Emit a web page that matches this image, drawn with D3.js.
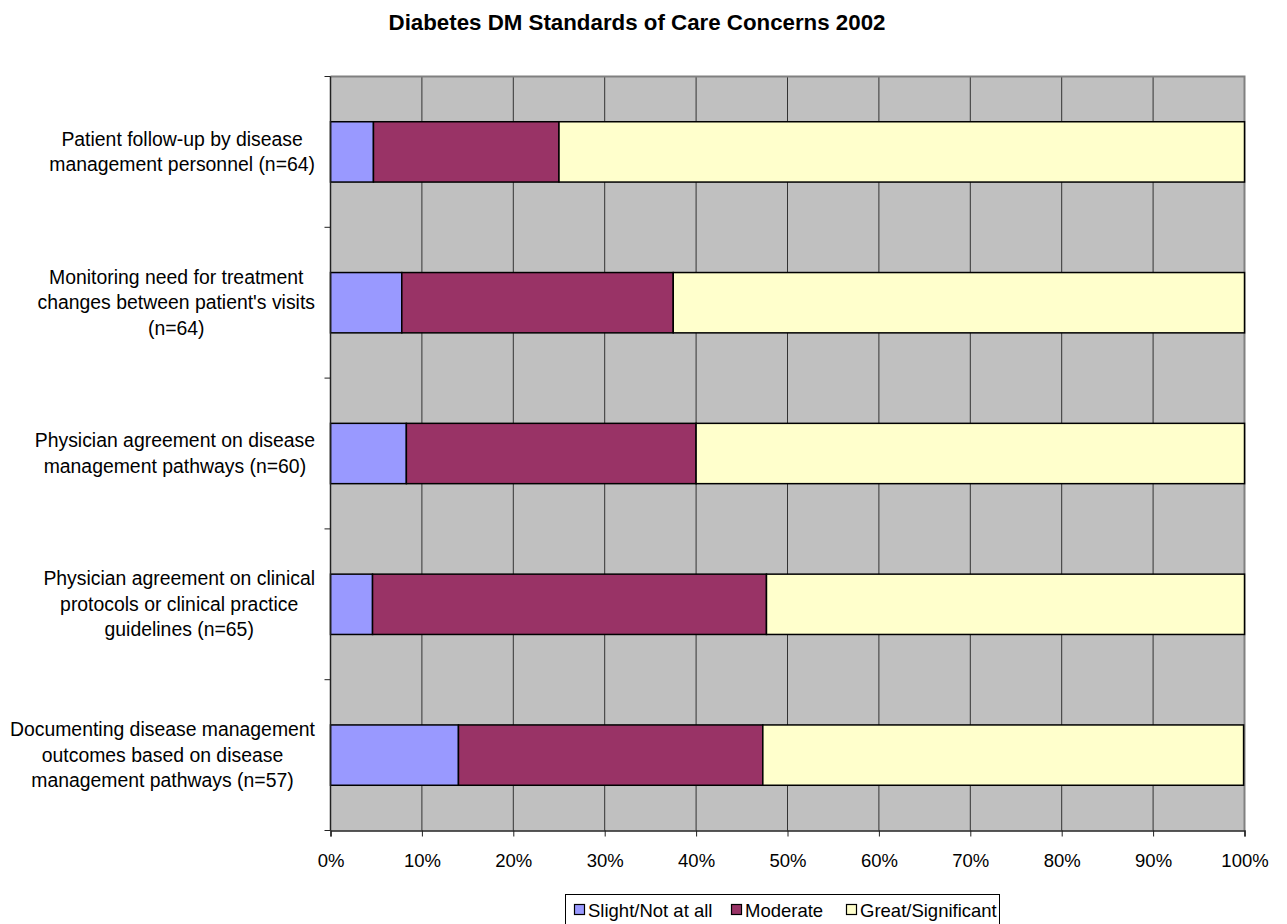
<!DOCTYPE html>
<html>
<head>
<meta charset="utf-8">
<script src="https://cdn.jsdelivr.net/npm/d3@7"></script>
<style>
  html, body { margin: 0; padding: 0; background: #fff; }
  svg { display: block; font-family: "Liberation Sans", Arial, sans-serif; }
</style>
</head>
<body>
<svg id="chart" width="1287" height="924"></svg>
<script>
// Survey items (top to bottom), each label split into its display lines
const categories = [
  ["Patient follow-up by disease", "management personnel (n=64)"],
  ["Monitoring need for treatment", "changes between patient's visits", "(n=64)"],
  ["Physician agreement on disease", "management pathways (n=60)"],
  ["Physician agreement on clinical", "protocols or clinical practice", "guidelines (n=65)"],
  ["Documenting disease management", "outcomes based on disease", "management pathways (n=57)"]
];

// Percent of respondents per level of concern
const slight    = [4.7, 7.8, 8.3, 4.6, 14.0];
const moderate  = [20.3, 29.7, 31.7, 43.1, 33.3];
const great     = [75.0, 62.5, 60.0, 52.3, 52.6];

const seriesNames  = ["Slight/Not at all", "Moderate", "Great/Significant"];
const seriesColors = ["#9999FF", "#993366", "#FFFFCC"];
const xTicks = [0, 10, 20, 30, 40, 50, 60, 70, 80, 90, 100];

const svg = d3.select("#chart");
const plot = { left: 330.5, right: 1244.5, top: 76.5, bottom: 830.5 };

const x = d3.scaleLinear().domain([0, 100]).range([plot.left, plot.right]);
const y = d3.scaleBand()
  .domain(d3.range(categories.length))
  .range([plot.top, plot.bottom])
  .paddingInner(0.6).paddingOuter(0.3);

// Title
svg.append("text")
  .attr("x", 637).attr("y", 30)
  .attr("text-anchor", "middle")
  .attr("font-weight", "bold")
  .attr("font-size", 22.3)
  .text("Diabetes DM Standards of Care Concerns 2002");

// Plot background
svg.append("rect")
  .attr("x", plot.left).attr("y", plot.top)
  .attr("width", plot.right - plot.left).attr("height", plot.bottom - plot.top)
  .attr("fill", "#C0C0C0");

// Vertical gridlines
svg.append("g").selectAll("line")
  .data(xTicks.slice(1, -1))
  .join("line")
  .attr("x1", d => x(d)).attr("x2", d => x(d))
  .attr("y1", plot.top).attr("y2", plot.bottom)
  .attr("stroke", "#333").attr("stroke-width", 1);

// Top and right frame
svg.append("path")
  .attr("d", `M${plot.left},${plot.top}H${plot.right}V${plot.bottom}`)
  .attr("fill", "none").attr("stroke", "#808080").attr("stroke-width", 2);

// Stacked bars
const rows = categories.map((c, i) => [slight[i], moderate[i], great[i]]);
const stack = d3.stack().keys([0, 1, 2]).value((r, k) => r[k]);
const layers = stack(rows);

svg.append("g").selectAll("g")
  .data(layers)
  .join("g")
  .attr("fill", (d, k) => seriesColors[k])
  .selectAll("rect")
  .data(d => d.map((v, i) => ({ v, i })))
  .join("rect")
  .attr("x", d => x(d.v[0]))
  .attr("y", d => y(d.i))
  .attr("width", d => x(d.v[1]) - x(d.v[0]))
  .attr("height", y.bandwidth())
  .attr("stroke", "#000").attr("stroke-width", 1.5);

// X axis
const xAxis = svg.append("g")
  .attr("transform", `translate(0,${plot.bottom})`)
  .call(d3.axisBottom(x).tickValues(xTicks).tickFormat(d => d + "%").tickSize(6).tickPadding(17.5));
xAxis.select(".domain").attr("stroke", "#222").attr("stroke-width", 1.5);
xAxis.selectAll(".tick line").attr("stroke", "#222");
xAxis.selectAll(".tick text")
  .attr("font-size", 18.5).attr("fill", "#000")
  .attr("font-family", "'Liberation Sans', Arial, sans-serif");

// Y axis with ticks at category boundaries
const boundaries = d3.range(categories.length + 1).map(i => plot.top + i * (plot.bottom - plot.top) / categories.length);
svg.append("line")
  .attr("x1", plot.left).attr("x2", plot.left)
  .attr("y1", plot.top).attr("y2", plot.bottom)
  .attr("stroke", "#222").attr("stroke-width", 1.5);
svg.append("g").selectAll("line")
  .data(boundaries)
  .join("line")
  .attr("x1", plot.left - 6).attr("x2", plot.left)
  .attr("y1", d => d).attr("y2", d => d)
  .attr("stroke", "#222");

// Category labels: each block right-aligned at the axis, lines centred within the block
const lineH = 25.5;
const labelRight = 315;
const labels = svg.append("g")
  .attr("font-size", 19.4).attr("text-anchor", "middle");
categories.forEach((lines, i) => {
  const cy = y(i) + y.bandwidth() / 2;
  const t = labels.append("text")
    .attr("y", cy - (lines.length - 1) * lineH / 2 + 6.5);
  const spans = lines.map((ln, j) =>
    t.append("tspan").attr("dy", j === 0 ? 0 : lineH).text(ln));
  const maxW = d3.max(spans, s => s.node().getComputedTextLength());
  const cx = labelRight - maxW / 2;
  spans.forEach(s => s.attr("x", cx));
});

// Legend
const legend = svg.append("g");
legend.append("rect")
  .attr("x", 565.5).attr("y", 894.5).attr("width", 434).attr("height", 30)
  .attr("fill", "#fff").attr("stroke", "#000").attr("stroke-width", 1);
const legendX = [574, 731, 846];
seriesNames.forEach((name, k) => {
  legend.append("rect")
    .attr("x", legendX[k] + 0.5).attr("y", 904.5).attr("width", 10).attr("height", 10)
    .attr("fill", seriesColors[k]).attr("stroke", "#000").attr("stroke-width", 1.2);
  legend.append("text")
    .attr("x", legendX[k] + 14).attr("y", 917)
    .attr("font-size", 18.5)
    .text(name);
});
</script>
</body>
</html>
